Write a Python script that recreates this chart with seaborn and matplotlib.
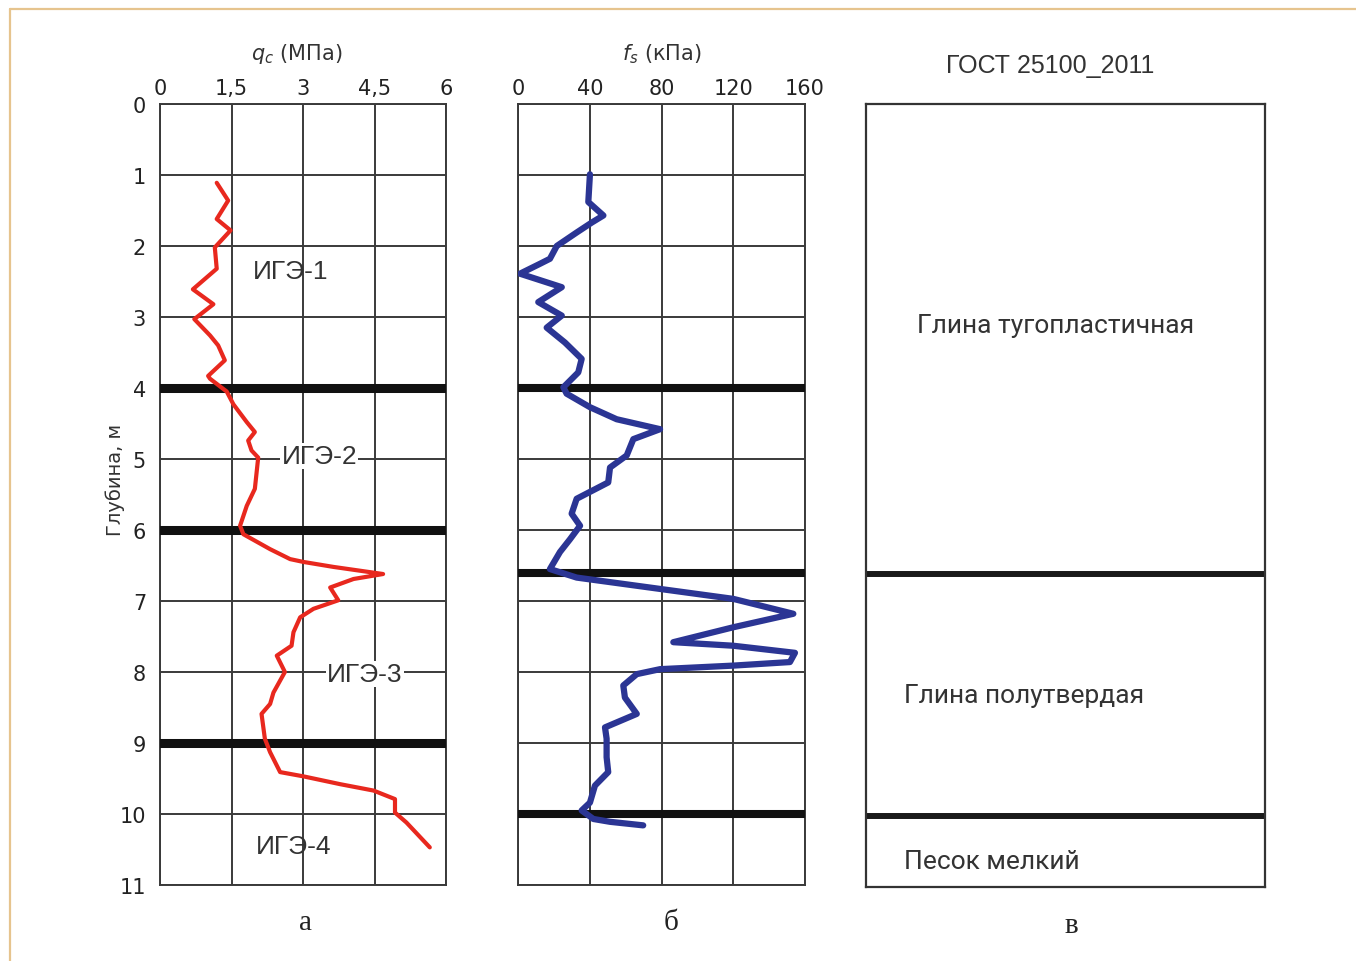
import numpy as np
import pandas as pd
import seaborn as sns
import matplotlib.pyplot as plt
from matplotlib.lines import Line2D

# cone resistance profile (panel a)
qc_depth = [1.11, 1.36, 1.62, 1.78, 2.02, 2.32, 2.61, 2.82, 3.03, 3.26, 3.40, 3.61, 3.83, 3.87,
            4.05, 4.23, 4.48, 4.62, 4.74, 4.88, 4.98, 5.42, 5.66, 5.94, 6.06, 6.27, 6.41, 6.45,
            6.52, 6.62, 6.69, 6.81, 6.99, 7.11, 7.23, 7.44, 7.63, 7.77, 8.00, 8.29, 8.45, 8.59,
            8.94, 9.13, 9.41, 9.47, 9.58, 9.67, 9.79, 9.98, 10.12, 10.47]
qc_mpa = [1.19, 1.43, 1.19, 1.48, 1.15, 1.19, 0.69, 1.12, 0.72, 1.05, 1.22, 1.36, 1.01, 1.05,
          1.40, 1.54, 1.82, 1.99, 1.85, 1.92, 2.06, 1.99, 1.82, 1.68, 1.75, 2.31, 2.73, 3.01,
          3.64, 4.68, 4.06, 3.57, 3.74, 3.22, 2.94, 2.80, 2.76, 2.45, 2.62, 2.38, 2.31, 2.13,
          2.20, 2.31, 2.52, 3.01, 3.78, 4.48, 4.93, 4.93, 5.17, 5.66]

# sleeve friction profile (panel b)
fs_depth = [0.99, 1.38, 1.57, 1.67, 1.81, 2.00, 2.18, 2.25, 2.39, 2.58, 2.79, 2.98, 3.15, 3.36,
            3.59, 3.78, 3.99, 4.08, 4.27, 4.44, 4.58, 4.72, 4.95, 5.12, 5.33, 5.56, 5.77, 5.94,
            6.13, 6.31, 6.55, 6.67, 6.83, 6.97, 7.18, 7.37, 7.58, 7.63, 7.73, 7.86, 7.91, 7.96,
            8.03, 8.19, 8.36, 8.59, 8.78, 8.94, 9.20, 9.41, 9.60, 9.84, 9.95, 10.07, 10.11, 10.16]
fs_kpa = [40.1, 39.2, 47.6, 41.1, 32.7, 21.6, 17.8, 12.3, 1.1, 24.4, 11.3, 24.4, 16.0, 26.2,
          35.5, 33.6, 25.3, 27.1, 40.1, 55.0, 79.2, 64.3, 60.6, 51.3, 50.3, 32.7, 29.9, 34.6,
          29.0, 23.4, 17.8, 32.7, 79.2, 120.0, 153.5, 120.0, 86.6, 120.0, 154.4, 151.6, 120.0, 79.2,
          66.2, 58.7, 59.6, 66.2, 48.5, 49.4, 49.4, 50.3, 42.9, 40.1, 35.5, 42.0, 51.3, 69.8]

depth_ticks = list(range(12))
qc_ticks = [0, 1.5, 3, 4.5, 6]
qc_ticklabels = ["0", "1,5", "3", "4,5", "6"]
fs_ticks = [0, 40, 80, 120, 160]

ige_bounds_qc = [4, 6, 9]
ige_bounds_fs = [4, 6.6, 10]
ige_labels = ["ИГЭ-1", "ИГЭ-2", "ИГЭ-3", "ИГЭ-4"]

gost_bounds = [6.6, 10]
gost_layers = ["Глина тугопластичная", "Глина полутвердая", "Песок мелкий"]

qc_df = pd.DataFrame({"depth": qc_depth, "qc": qc_mpa})
fs_df = pd.DataFrame({"depth": fs_depth, "fs": fs_kpa})

sns.set_style("white")
plt.rcParams["font.family"] = ["DejaVu Sans"]

W, H = 1356, 962
fig = plt.figure(figsize=(W / 100, H / 100), dpi=100)

def box(l, r, t, b):
    return [l / W, 1 - b / H, (r - l) / W, (b - t) / H]

ax1 = fig.add_axes(box(160, 446, 105, 886))
ax2 = fig.add_axes(box(518, 805, 105, 886))
ax3 = fig.add_axes(box(866, 1265, 105, 888))

gridc = "#3a3a3a"
for ax in (ax1, ax2):
    ax.set_ylim(11, 0)
    ax.set_yticks(depth_ticks)
    ax.grid(True, color=gridc, lw=1.4)
    ax.xaxis.tick_top()
    ax.tick_params(length=0, labelsize=15, pad=4, colors="#222222")
    for s in ax.spines.values():
        s.set_color(gridc)
        s.set_linewidth(1.4)
    ax.set_axisbelow(True)

ax1.set_xlim(0, 6)
ax1.set_xticks(qc_ticks)
ax1.set_xticklabels(qc_ticklabels)
ax1.tick_params(axis="y", pad=10)
ax2.set_xlim(0, 160)
ax2.set_xticks(fs_ticks)
ax2.set_yticklabels([])

for d in ige_bounds_qc:
    ax1.axhline(d, color="#111111", lw=6.5, zorder=3)
for d in ige_bounds_fs:
    ax2.axhline(d, color="#111111", lw=5.8, zorder=3)

sns.lineplot(data=qc_df, x="qc", y="depth", sort=False, estimator=None, ax=ax1,
             color="#e8281e", lw=3.0, zorder=4)
sns.lineplot(data=fs_df, x="fs", y="depth", sort=False, estimator=None, ax=ax2,
             color="#2b3594", lw=4.5, zorder=4)
for ax in (ax1, ax2):
    ax.set_xlabel("")
    ax.set_ylabel("")
    for ln in ax.get_lines():
        ln.set_solid_joinstyle("round")
        ln.set_solid_capstyle("round")

lab_font = dict(family=["Liberation Sans"], fontsize=19, color="#333333",
                ha="center", va="center", zorder=5)
ax1.text(2.75, 2.35, ige_labels[0], **lab_font)
ax1.text(3.34, 4.96, ige_labels[1], bbox=dict(fc="white", ec="none", pad=1), **lab_font)
ax1.text(4.30, 8.03, ige_labels[2], bbox=dict(fc="white", ec="none", pad=1), **lab_font)
ax1.text(2.81, 10.45, ige_labels[3], **lab_font)

ax1.text(0.478, 1.065, "$q_c$ (МПа)", transform=ax1.transAxes, ha="center",
         va="center", fontsize=15, color="#333333")
ax2.text(0.5, 1.065, "$f_s$ (кПа)", transform=ax2.transAxes, ha="center",
         va="center", fontsize=15, color="#333333")
ax1.text(-0.157, 0.52, "Глубина, м", transform=ax1.transAxes, rotation=90,
         ha="center", va="center", fontsize=14, color="#333333")

# GOST column
ax3.set_xlim(0, 1)
ax3.set_ylim(11, 0)
ax3.set_xticks([])
ax3.set_yticks([])
for s in ax3.spines.values():
    s.set_color("#333333")
    s.set_linewidth(1.6)
for d in gost_bounds:
    ax3.axhline(d, color="#1a1a1a", lw=4.3)
g_font = dict(family=["Roboto"], fontsize=19, color="#333333", va="center")
ax3.text(0.474, 3.1, gost_layers[0], ha="center", **g_font)
ax3.text(0.095, 8.3, gost_layers[1], ha="left", **g_font)
ax3.text(0.095, 10.63, gost_layers[2], ha="left", **g_font)
ax3.text(0.461, 1.05, "ГОСТ 25100_2011", transform=ax3.transAxes, ha="center",
         va="center", fontsize=18, family=["Liberation Sans"], color="#333333")

serif = dict(family=["Liberation Serif"], fontsize=21, color="#222222",
             ha="center", va="center")
ax1.text(0.51, -0.048, "а", transform=ax1.transAxes, **serif)
ax2.text(0.533, -0.048, "б", transform=ax2.transAxes, **serif)
ax3.text(0.514, -0.048, "в", transform=ax3.transAxes, **serif)

# tan frame
tan = "#e6c48e"
fig.add_artist(Line2D([10 / W, 1], [1 - 10 / H, 1 - 10 / H], color=tan, lw=1.6))
fig.add_artist(Line2D([10 / W, 10 / W], [0, 1 - 10 / H], color=tan, lw=1.6))

fig.savefig("out.png", dpi=100, facecolor="white")
